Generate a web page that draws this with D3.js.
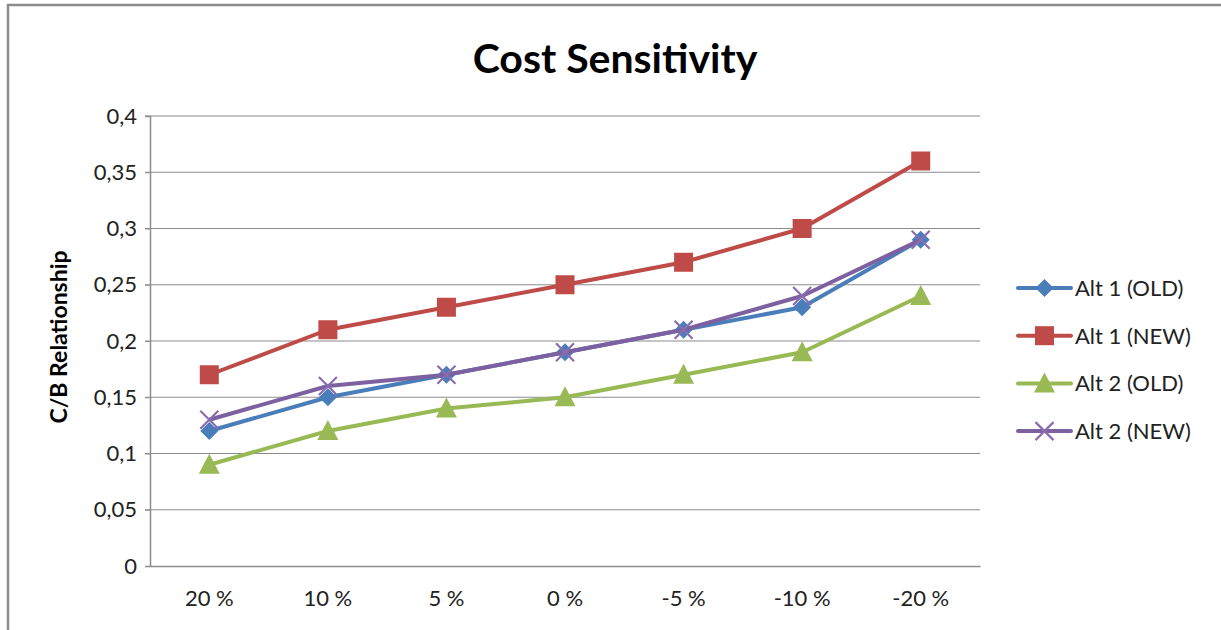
<!DOCTYPE html>
<html>
<head>
<meta charset="utf-8">
<script src="https://cdn.jsdelivr.net/npm/d3@7"></script>
<style>
  html, body { margin: 0; padding: 0; background: #fff; }
  svg { display: block; font-family: Lato, "Open Sans", sans-serif; }
</style>
</head>
<body>
<svg id="chart" width="1221" height="630"></svg>
<script>
// Cost sensitivity of the C/B relationship per cost change
const categories = ["20 %", "10 %", "5 %", "0 %", "-5 %", "-10 %", "-20 %"];
const alt1Old = [0.12, 0.15, 0.17, 0.19, 0.21, 0.23, 0.29];
const alt1New = [0.17, 0.21, 0.23, 0.25, 0.27, 0.30, 0.36];
const alt2Old = [0.09, 0.12, 0.14, 0.15, 0.17, 0.19, 0.24];
const alt2New = [0.13, 0.16, 0.17, 0.19, 0.21, 0.24, 0.29];
const yTicks = [0, 0.05, 0.1, 0.15, 0.2, 0.25, 0.3, 0.35, 0.4];
const yTickLabels = ["0", "0,05", "0,1", "0,15", "0,2", "0,25", "0,3", "0,35", "0,4"];
const seriesNames = ["Alt 1 (OLD)", "Alt 1 (NEW)", "Alt 2 (OLD)", "Alt 2 (NEW)"];

const series = [
  { name: seriesNames[0], values: alt1Old, color: "#4a7ebb", marker: "diamond" },
  { name: seriesNames[1], values: alt1New, color: "#be4b48", marker: "square" },
  { name: seriesNames[2], values: alt2Old, color: "#98b954", marker: "triangle" },
  { name: seriesNames[3], values: alt2New, color: "#7d60a0", marker: "cross" }
];

const svg = d3.select("#chart");
const plot = { left: 150, right: 980, top: 116, bottom: 566 };
const labelFont = 22;

// outer frame (top and left edges)
svg.append("path")
  .attr("d", "M8,630 L8,5 L1221,5")
  .attr("fill", "none").attr("stroke", "#8c8c8c").attr("stroke-width", 2.5);

svg.append("text")
  .attr("x", 615).attr("y", 73)
  .attr("text-anchor", "middle")
  .attr("font-size", 41).attr("font-weight", "bold").attr("fill", "#000")
  .text("Cost Sensitivity");

const x = d3.scaleBand().domain(categories).range([plot.left, plot.right]);
const y = d3.scaleLinear().domain([0, 0.4]).range([plot.bottom, plot.top]);

// horizontal gridlines
svg.append("g").selectAll("line")
  .data(yTicks.filter(t => t > 0))
  .join("line")
  .attr("x1", plot.left - 5).attr("x2", plot.right)
  .attr("y1", d => y(d)).attr("y2", d => y(d))
  .attr("stroke", "#8c8c8c").attr("stroke-width", 1.2);

// y axis
const yAxis = d3.axisLeft(y).tickValues(yTicks)
  .tickFormat((d, i) => yTickLabels[i]).tickSize(5).tickPadding(8);
const gy = svg.append("g").attr("transform", `translate(${plot.left},0)`).call(yAxis);
gy.select(".domain").attr("stroke", "#8c8c8c").attr("stroke-width", 1.5);
gy.selectAll(".tick line").attr("stroke", "#8c8c8c");
gy.selectAll("text").attr("font-size", labelFont).attr("fill", "#222")
  .attr("font-family", "Lato, 'Open Sans', sans-serif");

// x axis
const xAxis = d3.axisBottom(x).tickSize(0).tickPadding(24);
const gx = svg.append("g").attr("transform", `translate(0,${plot.bottom})`).call(xAxis);
gx.select(".domain").attr("stroke", "#8c8c8c").attr("stroke-width", 1.5);
gx.selectAll("text").attr("font-size", labelFont).attr("fill", "#222")
  .attr("font-family", "Lato, 'Open Sans', sans-serif");

// y axis title
svg.append("text")
  .attr("transform", `translate(67,${(plot.top + plot.bottom) / 2 - 4}) rotate(-90)`)
  .attr("text-anchor", "middle")
  .attr("font-size", 23).attr("font-weight", "bold").attr("fill", "#000")
  .text("C/B Relationship");

function drawMarker(g, type, color, cx, cy) {
  if (type === "diamond") {
    g.append("path").attr("d", `M${cx},${cy - 9} L${cx + 9},${cy} L${cx},${cy + 9} L${cx - 9},${cy} Z`)
      .attr("fill", color);
  } else if (type === "square") {
    g.append("rect").attr("x", cx - 9.5).attr("y", cy - 9.5).attr("width", 19).attr("height", 19)
      .attr("fill", color);
  } else if (type === "triangle") {
    g.append("path").attr("d", `M${cx},${cy - 11} L${cx + 10.5},${cy + 9} L${cx - 10.5},${cy + 9} Z`)
      .attr("fill", color);
  } else {
    g.append("path").attr("d", `M${cx - 9},${cy - 9} L${cx + 9},${cy + 9} M${cx - 9},${cy + 9} L${cx + 9},${cy - 9}`)
      .attr("stroke", "#8a6cb0").attr("stroke-width", 2.2).attr("fill", "none");
  }
}

const line = d3.line()
  .x((d, i) => x(categories[i]) + x.bandwidth() / 2)
  .y(d => y(d));

series.forEach(s => {
  const g = svg.append("g");
  g.append("path").datum(s.values).attr("d", line)
    .attr("fill", "none").attr("stroke", s.color).attr("stroke-width", 4)
    .attr("stroke-linejoin", "round");
  s.values.forEach((v, i) => drawMarker(g, s.marker, s.color, x(categories[i]) + x.bandwidth() / 2, y(v)));
});

// legend
const legend = svg.append("g");
series.forEach((s, i) => {
  const ly = 288 + i * 47.7;
  const g = legend.append("g");
  g.append("line").attr("x1", 1018).attr("x2", 1071).attr("y1", ly).attr("y2", ly)
    .attr("stroke", s.color).attr("stroke-width", 4).attr("stroke-linecap", "round");
  drawMarker(g, s.marker, s.color, 1044.5, ly);
  g.append("text").attr("x", 1075).attr("y", ly + 8)
    .attr("font-size", labelFont).attr("fill", "#222").text(s.name);
});
</script>
</body>
</html>
